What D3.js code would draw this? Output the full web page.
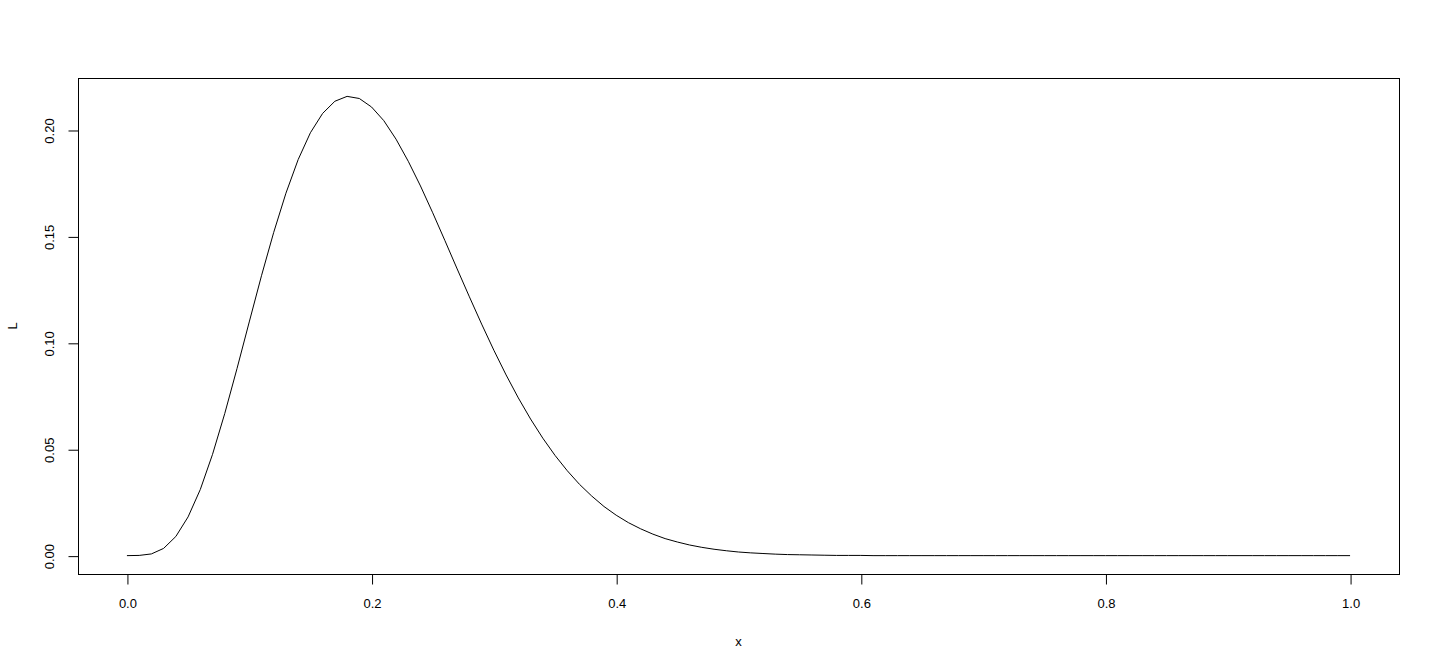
<!DOCTYPE html>
<html>
<head>
<meta charset="utf-8">
<script src="https://cdn.jsdelivr.net/npm/d3@7"></script>
<style>
  body { margin: 0; background: #fff; }
  text { font-family: "Liberation Sans", Arial, sans-serif; }
</style>
</head>
<body>
<div id="plot"></div>
<script>
// grid of x values used for the curve
var xs = [0.00,0.01,0.02,0.03,0.04,0.05,0.06,0.07,0.08,0.09,
  0.10,0.11,0.12,0.13,0.14,0.15,0.16,0.17,0.18,0.19,
  0.20,0.21,0.22,0.23,0.24,0.25,0.26,0.27,0.28,0.29,
  0.30,0.31,0.32,0.33,0.34,0.35,0.36,0.37,0.38,0.39,
  0.40,0.41,0.42,0.43,0.44,0.45,0.46,0.47,0.48,0.49,
  0.50,0.51,0.52,0.53,0.54,0.55,0.56,0.57,0.58,0.59,
  0.60,0.61,0.62,0.63,0.64,0.65,0.66,0.67,0.68,0.69,
  0.70,0.71,0.72,0.73,0.74,0.75,0.76,0.77,0.78,0.79,
  0.80,0.81,0.82,0.83,0.84,0.85,0.86,0.87,0.88,0.89,
  0.90,0.91,0.92,0.93,0.94,0.95,0.96,0.97,0.98,0.99,1.00]

// likelihood values
var L = [0.0000,0.0001,0.0008,0.0034,0.0090,0.0182,0.0311,0.0476,0.0668,0.0879,
  0.1098,0.1315,0.1519,0.1703,0.1861,0.1987,0.2078,0.2135,0.2158,0.2148,
  0.2108,0.2044,0.1957,0.1853,0.1737,0.1611,0.1480,0.1347,0.1216,0.1088,
  0.0965,0.0849,0.0741,0.0642,0.0552,0.0471,0.0399,0.0335,0.0280,0.0231,
  0.0190,0.0155,0.0126,0.0101,0.0080,0.0064,0.0050,0.0039,0.0030,0.0023,
  0.0017,0.0013,0.0010,0.0007,0.0005,0.0004,0.0003,0.0002,0.0001,0.0001,
  0.0001,0,0,0,0,0,0,0,0,0,
  0,0,0,0,0,0,0,0,0,0,
  0,0,0,0,0,0,0,0,0,0,
  0,0,0,0,0,0,0,0,0,0,0]

var xTicks = [0, 0.2, 0.4, 0.6, 0.8, 1.0]
var yTicks = [0, 0.05, 0.10, 0.15, 0.20]

var W = 1440, H = 672
var box = {left: 78, right: 1399, top: 78, bottom: 574}

var svg = d3.select("#plot").append("svg")
    .attr("width", W)
    .attr("height", H)

// R style: data range padded by 4% on each side
var x = d3.scaleLinear()
  .domain([-0.04, 1.04])
  .range([box.left, box.right])

var ymax = d3.max(L), pad = ymax * 0.04
var y = d3.scaleLinear()
  .domain([-pad, ymax + pad])
  .range([box.bottom, box.top])

svg.append("rect")
  .attr("x", box.left + 0.5).attr("y", box.top + 0.5)
  .attr("width", box.right - box.left).attr("height", box.bottom - box.top)
  .attr("fill", "none").attr("stroke", "#000").attr("stroke-width", 1)

// x axis: line spans first to last tick only
var xAxis = d3.axisBottom(x)
  .tickValues(xTicks)
  .tickSize(10)
  .tickPadding(14)
  .tickFormat(d3.format(".1f"))
var gx = svg.append("g")
  .attr("transform", "translate(0.5," + (box.bottom + 0.5) + ")")
  .call(xAxis)
gx.select(".domain").attr("d", "M" + x(0) + ",0H" + x(1))
gx.selectAll("text").attr("font-size", 13).attr("fill", "#000").attr("font-family", "Liberation Sans, Arial, sans-serif")

var yAxis = d3.axisLeft(y)
  .tickValues(yTicks)
  .tickSize(10)
  .tickFormat(d3.format(".2f"))
var gy = svg.append("g")
  .attr("transform", "translate(" + (box.left + 0.5) + ",0.5)")
  .call(yAxis)
gy.select(".domain").attr("d", "M0," + y(0) + "V" + y(0.20))
gy.selectAll(".tick text")
  .attr("x", null).attr("dy", null)
  .attr("transform", "translate(-25,0) rotate(-90)")
  .attr("text-anchor", "middle")
  .attr("font-size", 13).attr("fill", "#000")
  .attr("font-family", "Liberation Sans, Arial, sans-serif")

// axis titles centred on the plot box
svg.append("text")
  .attr("x", (box.left + box.right) / 2).attr("y", 646)
  .attr("text-anchor", "middle")
  .attr("font-size", 13)
  .text("x")

svg.append("text")
  .attr("transform", "translate(17," + (box.top + box.bottom) / 2 + ") rotate(-90)")
  .attr("text-anchor", "middle")
  .attr("font-size", 13)
  .text("L")

var line = d3.line()
  .x(function(d, i) { return x(xs[i]) })
  .y(function(d) { return y(d) })

svg.append("path")
  .datum(L)
  .attr("d", line)
  .attr("fill", "none")
  .attr("stroke", "#000")
  .attr("stroke-width", 1)
</script>
</body>
</html>
